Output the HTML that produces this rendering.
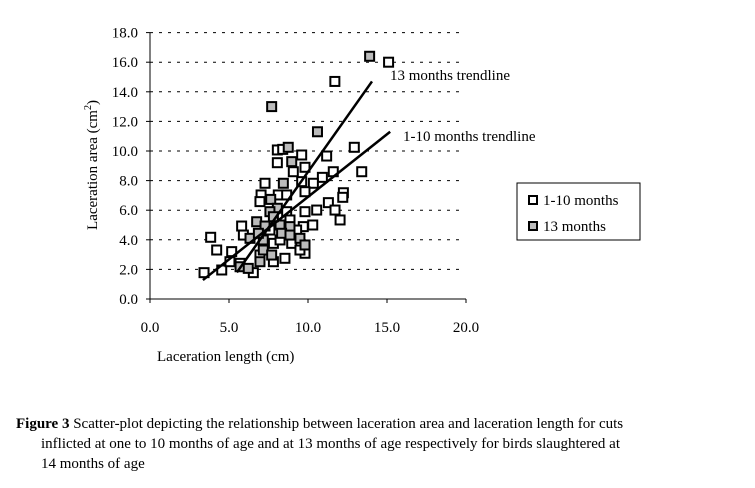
<!DOCTYPE html>
<html><head><meta charset="utf-8"><style>
body{margin:0;background:#fff;width:755px;height:483px;overflow:hidden;font-family:"Liberation Serif",serif;}
svg text{font-family:"Liberation Serif",serif;}
</style></head><body>
<svg width="755" height="483">
<g id="grid"></g><g id="axes"></g><g id="marks"></g><g id="lines"></g>
<text x="157" y="361" font-size="15">Laceration length (cm)</text>
<text transform="translate(97,165) rotate(-90)" font-size="15" text-anchor="middle">Laceration area (cm<tspan font-size="10" dy="-6">2</tspan><tspan dy="6">)</tspan></text>
<text x="390" y="80" font-size="15">13 months trendline</text>
<text x="403" y="141" font-size="15">1-10 months trendline</text>
<g>
<rect x="517" y="183" width="123" height="57" fill="none" stroke="#000" stroke-width="1"/>
<rect x="529" y="196" width="8" height="8" fill="#fff" stroke="#000" stroke-width="2"/>
<text x="543" y="205" font-size="15">1-10 months</text>
<rect x="529" y="222" width="8" height="8" fill="#bbb" stroke="#000" stroke-width="2"/>
<text x="543" y="231" font-size="15">13 months</text>
</g>
<g font-size="15">
<text x="16" y="428"><tspan font-weight="bold">Figure 3</tspan> Scatter-plot depicting the relationship between laceration area and laceration length for cuts</text>
<text x="41" y="448">inflicted at one to 10 months of age and at 13 months of age respectively for birds slaughtered at</text>
<text x="41" y="468">14 months of age</text>
</g>
</svg>
<script>
const xTicks=[0,5,10,15,20];
const yTicks=[0,2,4,6,8,10,12,14,16,18];
const groupAx=[8.06,8.40,9.60,11.18,12.93,13.40,8.06,9.07,9.81,11.60,10.91,7.28,10.34,9.60,12.24,12.20,11.29,7.03,8.12,8.65,6.96,9.81,10.55,11.71,9.81,12.03,10.30,8.65,5.80,3.84,4.22,5.17,9.70,8.86,9.28,9.81,8.97,8.54,7.81,6.54,4.54,3.42,5.70,6.96,5.91,7.59,9.49,7.81,5.06,8.23,11.7,15.1];
const groupAy=[10.07,10.11,9.73,9.66,10.25,8.60,9.21,8.60,8.90,8.60,8.22,7.82,7.82,7.93,7.18,6.87,6.51,7.03,7.03,7.03,6.58,7.25,6.01,6.01,5.90,5.34,5.00,5.90,4.93,4.17,3.31,3.20,4.89,5.34,4.66,3.09,3.76,2.75,2.52,1.78,1.96,1.78,2.41,2.97,4.32,4.66,3.31,3.76,2.52,3.99,14.7,16.0];
const groupBx=[8.75,8.97,8.44,7.64,8.06,7.59,6.75,7.28,8.23,8.86,8.33,8.86,9.49,9.81,7.17,6.33,7.17,7.70,6.96,5.70,6.22,6.86,7.81,7.7,13.9,10.6];
const groupBy=[10.25,9.28,7.82,6.73,6.13,5.90,5.22,4.93,5.00,4.89,4.44,4.32,4.10,3.65,3.99,4.10,3.31,2.97,2.52,2.18,2.07,4.44,5.56,13.0,16.4,11.3];
const trendAx=[3.35,15.2], trendAy=[1.28,11.3];
const trendBx=[5.5,14.05], trendBy=[1.8,14.7];
const X=v=>150+v*15.8, Y=v=>299-v*14.8;
const NS="http://www.w3.org/2000/svg";
function mk(t,a,p){const e=document.createElementNS(NS,t);for(const k in a)e.setAttribute(k,a[k]);p.appendChild(e);return e;}
const grid=document.getElementById('grid'),axes=document.getElementById('axes'),marks=document.getElementById('marks'),lines=document.getElementById('lines');
yTicks.forEach(v=>{
 if(v>0){const g=mk('line',{x1:X(0),x2:460,y1:Y(v),y2:Y(v),stroke:'#000','stroke-dasharray':'3,6','stroke-width':1},grid);
 
 }
 const t=mk('text',{x:138,y:Y(v)+5,'font-size':15,'text-anchor':'end'},axes);t.textContent=v.toFixed(1);
 
 
 mk('line',{x1:X(0)-4,x2:X(0),y1:Y(v),y2:Y(v),stroke:'#000'},axes);
});
xTicks.forEach(v=>{
 const t=mk('text',{x:X(v),y:332,'font-size':15,'text-anchor':'middle'},axes);t.textContent=v.toFixed(1);
 
 
 mk('line',{x1:X(v),x2:X(v),y1:Y(0),y2:Y(0)+4,stroke:'#000'},axes);
});
const ya=mk('line',{x1:X(0),x2:X(0),y1:Y(0),y2:Y(18),stroke:'#000'},axes);


const xa=mk('line',{x1:X(0),x2:X(20),y1:Y(0),y2:Y(0),stroke:'#000'},axes);


function pts(xs,ys,fill,name){xs.forEach((x,i)=>{const r=mk('rect',{x:X(x)-4.5,y:Y(ys[i])-4.5,width:9,height:9,fill:fill,stroke:'#000','stroke-width':2},marks);
 
 });}
pts(groupAx,groupAy,'#fff','point-1-10-months');
pts(groupBx,groupBy,'#bbb','point-13-months');
const l1=mk('line',{x1:X(trendAx[0]),y1:Y(trendAy[0]),x2:X(trendAx[1]),y2:Y(trendAy[1]),stroke:'#000','stroke-width':2.5},lines);


const l2=mk('line',{x1:X(trendBx[0]),y1:Y(trendBy[0]),x2:X(trendBx[1]),y2:Y(trendBy[1]),stroke:'#000','stroke-width':2.5},lines);


</script>
</body></html>
